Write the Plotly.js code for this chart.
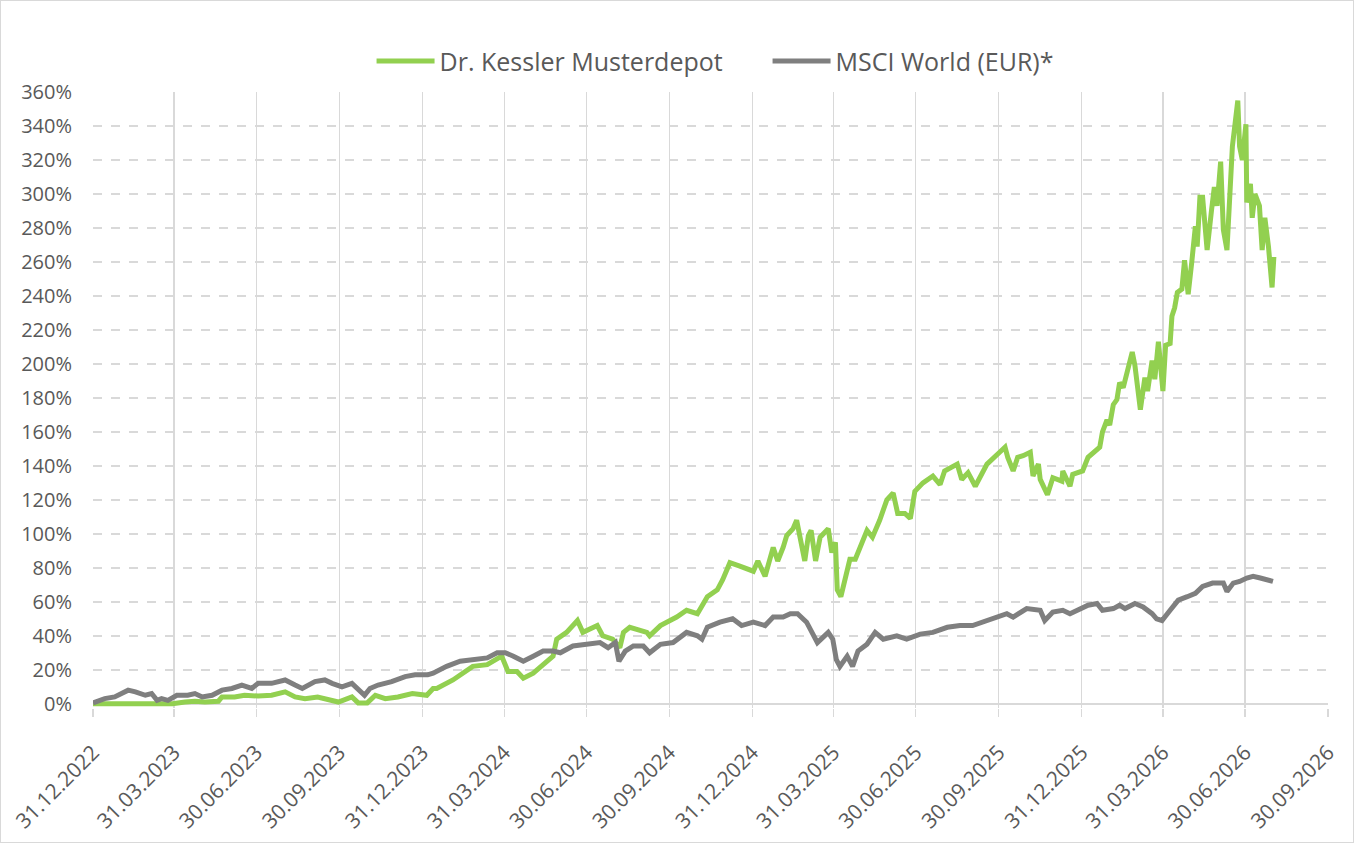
<!DOCTYPE html>
<html>
<head>
<meta charset="utf-8">
<script src="https://cdn.plot.ly/plotly-3.0.1.min.js"></script>
<style>
  html, body { margin: 0; padding: 0; background: #ffffff; }
  #chart { position: absolute; left: 0; top: 0; width: 1366px; height: 844px; }
  #frame { position: absolute; left: 0; top: 0; width: 1352px; height: 841px;
           border: 1.5px solid #D9D9D9; pointer-events: none; }
</style>
</head>
<body>
<div id="chart"></div>
<div id="frame"></div>
<script>
// ---- Data (percent performance since 31.12.2022) ----
const seriesNames = ["Dr. Kessler Musterdepot", "MSCI World (EUR)*"];

const depotDates = [
"2022-12-31","2023-01-28","2023-02-16","2023-03-06","2023-03-29","2023-04-12","2023-04-23","2023-05-04","2023-05-19","2023-05-23",
"2023-06-06","2023-06-17","2023-07-02","2023-07-17","2023-08-01","2023-08-12","2023-08-23","2023-09-06","2023-09-22","2023-09-29",
"2023-10-14","2023-10-21","2023-10-31","2023-11-09","2023-11-20","2023-12-04","2023-12-20","2023-12-31","2024-01-05","2024-01-12",
"2024-01-16","2024-02-03","2024-02-14","2024-02-25","2024-03-12","2024-03-23","2024-03-28","2024-04-04","2024-04-14","2024-04-21",
"2024-05-02","2024-05-13","2024-05-24","2024-05-28","2024-06-08","2024-06-20","2024-06-26","2024-07-12","2024-07-18","2024-07-29",
"2024-08-06","2024-08-10","2024-08-17","2024-09-05","2024-09-08","2024-09-20","2024-10-08","2024-10-19","2024-10-31","2024-11-11",
"2024-11-22","2024-11-28","2024-12-06","2024-12-17","2024-12-28","2025-01-01","2025-01-06","2025-01-14","2025-01-23","2025-01-28",
"2025-02-03","2025-02-07","2025-02-14","2025-02-18","2025-02-24","2025-02-27","2025-03-03","2025-03-06","2025-03-11","2025-03-16",
"2025-03-25","2025-03-29","2025-04-02","2025-04-04","2025-04-08","2025-04-13","2025-04-18","2025-04-24","2025-04-29","2025-05-07",
"2025-05-13","2025-05-21","2025-05-29","2025-06-05","2025-06-10","2025-06-18","2025-06-24","2025-06-29","2025-07-08","2025-07-19",
"2025-07-27","2025-08-01","2025-08-15","2025-08-20","2025-08-27","2025-09-04","2025-09-17","2025-09-26","2025-10-01","2025-10-07",
"2025-10-10","2025-10-16","2025-10-21","2025-10-27","2025-11-04","2025-11-07","2025-11-13","2025-11-15","2025-11-23","2025-11-29",
"2025-12-09","2025-12-10","2025-12-18","2025-12-21","2026-01-01","2026-01-07","2026-01-13","2026-01-20","2026-01-23","2026-01-28",
"2026-01-31","2026-02-04","2026-02-08","2026-02-11","2026-02-15","2026-02-19","2026-02-25","2026-02-28","2026-03-06","2026-03-11",
"2026-03-14","2026-03-19","2026-03-22","2026-03-26","2026-03-31","2026-04-03","2026-04-08","2026-04-10","2026-04-13","2026-04-16",
"2026-04-21","2026-04-24","2026-04-28","2026-05-02","2026-05-06","2026-05-08","2026-05-11","2026-05-14","2026-05-19","2026-05-24",
"2026-05-27","2026-05-30","2026-06-03","2026-06-06","2026-06-10","2026-06-16","2026-06-19","2026-06-22","2026-06-24","2026-06-27",
"2026-07-01","2026-07-02","2026-07-06","2026-07-08","2026-07-11","2026-07-16","2026-07-19","2026-07-22","2026-07-26","2026-07-30",
"2026-08-01"
];
const depotValues = [
0,0,0.5,0,0,1,1.5,1,1.5,4,
4,5,4.5,5,7,4,3,4,2,1,
4,0.5,0.5,5,3,4,6,5,5,9,
9,14,18,22,23,27,28,19,19,15,
18,23,28,38,42,49,42,46,40,38,
33,42,45,42,40,46,51,55,53,63,
67,73,83,81,79,78,84,75,92,84,
92,99,103,108,92,84,99,102,84,98,
103,89,95,67,63,75,85,85,92,102,
98,108,120,124,112,112,109,125,130,134,
129,137,141,132,136,128,141,146,148,151,
145,137,145,146,148,134,141,132,123,133,
131,137,128,135,137,145,148,151,160,167,
164,176,179,189,186,195,207,199,173,192,
184,202,191,213,184,211,212,228,233,242,
244,261,241,260,281,269,298,298,267,291,
304,293,319,279,267,328,340,355,328,320,
341,295,306,286,300,293,267,286,269,245,
263
];

const msciDates = [
"2022-12-31","2023-01-13","2023-01-24","2023-02-08","2023-02-16","2023-02-27","2023-03-06","2023-03-12","2023-03-17","2023-03-24",
"2023-04-03","2023-04-15","2023-04-23","2023-05-01","2023-05-12","2023-05-23","2023-06-03","2023-06-14","2023-06-25","2023-07-02",
"2023-07-17","2023-08-01","2023-08-12","2023-08-20","2023-09-03","2023-09-14","2023-09-22","2023-10-03","2023-10-14","2023-10-21",
"2023-10-28","2023-11-03","2023-11-12","2023-11-27","2023-12-12","2023-12-23","2024-01-06","2024-01-12","2024-01-27","2024-02-11",
"2024-02-25","2024-03-12","2024-03-23","2024-04-01","2024-04-10","2024-04-21","2024-05-02","2024-05-13","2024-05-24","2024-06-01",
"2024-06-15","2024-07-01","2024-07-15","2024-07-24","2024-08-01","2024-08-05","2024-08-12","2024-08-21","2024-09-01","2024-09-08",
"2024-09-20","2024-10-04","2024-10-19","2024-10-31","2024-11-05","2024-11-11","2024-11-25","2024-12-09","2024-12-19","2025-01-01",
"2025-01-14","2025-01-23","2025-02-03","2025-02-11","2025-02-19","2025-03-01","2025-03-07","2025-03-13","2025-03-25","2025-03-30",
"2025-04-03","2025-04-07","2025-04-15","2025-04-21","2025-04-27","2025-05-07","2025-05-16","2025-05-25","2025-06-09","2025-06-20",
"2025-07-05","2025-07-19","2025-08-04","2025-08-18","2025-09-01","2025-09-17","2025-10-01","2025-10-09","2025-10-16","2025-10-31",
"2025-11-15","2025-11-20","2025-11-29","2025-12-10","2025-12-18","2025-12-26","2026-01-07","2026-01-17","2026-01-23","2026-02-04",
"2026-02-11","2026-02-17","2026-02-28","2026-03-09","2026-03-19","2026-03-24","2026-03-30","2026-04-08","2026-04-17","2026-04-27",
"2026-05-06","2026-05-14","2026-05-25","2026-06-06","2026-06-10","2026-06-17","2026-06-24","2026-07-02","2026-07-09","2026-07-17",
"2026-07-24","2026-07-31"
];
const msciValues = [
0.5,3,4,8,7,5,6,2,3,2,
5,5,6,4,5,8,9,11,9,12,
12,14,11,9,13,14,12,10,12,8,
5,9,11,13,16,17,17,18,22,25,
26,27,30,30,28,25,28,31,31,30,
34,35,36,33,36,25,31,34,34,30,
35,36,42,40,38,45,48,50,46,48,
46,51,51,53,53,48,42,36,42,38,
26,22,28,22,31,35,42,38,40,38,
41,42,45,46,46,49,51,53,51,56,
55,49,54,55,53,55,58,59,55,56,
58,56,59,57,53,50,49,55,61,63,
65,69,71,71,66,71,72,74,75,74,
73,72
];

const tickDates = ["2022-12-31","2023-03-31","2023-06-30","2023-09-30","2023-12-31","2024-03-31","2024-06-30","2024-09-30",
                   "2024-12-31","2025-03-31","2025-06-30","2025-09-30","2025-12-31","2026-03-31","2026-06-30","2026-09-30"];
const tickLabels = tickDates.map(d => { const p = d.split("-"); return p[2] + "." + p[1] + "." + p[0]; });
const yTicks = [0,20,40,60,80,100,120,140,160,180,200,220,240,260,280,300,320,340,360];
const yTickLabels = yTicks.map(v => v + "%");

// ---- Styling ----
const textColor = "#595959";
const gridColor = "#D9D9D9";
const fontFamily = "'Open Sans', 'Noto Sans', sans-serif";

const traces = [
  { x: depotDates, y: depotValues, name: seriesNames[0], type: "scatter", mode: "lines",
    line: { color: "#92D050", width: 5 }, hoverinfo: "x+y" },
  { x: msciDates, y: msciValues, name: seriesNames[1], type: "scatter", mode: "lines",
    line: { color: "#7F7F7F", width: 5 }, hoverinfo: "x+y" }
];

const layout = {
  width: 1366, height: 844,
  paper_bgcolor: "#ffffff", plot_bgcolor: "#ffffff",
  margin: { l: 93, r: 38, t: 92, b: 136, pad: 0 },
  font: { family: fontFamily, color: textColor, size: 20 },
  showlegend: true,
  legend: { orientation: "h", x: 0.5462, xanchor: "center", y: 1.05, yanchor: "middle",
            font: { size: 25, color: textColor, family: fontFamily }, itemwidth: 58,
            entrywidth: 323, entrywidthmode: "pixels",
            traceorder: "normal", bgcolor: "rgba(0,0,0,0)" },
  xaxis: {
    type: "date", range: ["2022-12-31", "2026-09-30"],
    tickmode: "array", tickvals: tickDates, ticktext: tickLabels, tickangle: -45,
    showgrid: true, gridcolor: gridColor, gridwidth: 1.5,
    ticks: "outside", ticklen: 8, tickcolor: gridColor, tickwidth: 1.5,
    ticklabelstandoff: 15,
    showline: false, zeroline: false,
    tickfont: { size: 21, color: textColor, family: fontFamily }
  },
  yaxis: {
    range: [-2.5, 360], tickmode: "array", tickvals: yTicks, ticktext: yTickLabels,
    showgrid: true, gridcolor: gridColor, gridwidth: 1.5, griddash: "dash",
    zeroline: true, zerolinecolor: gridColor, zerolinewidth: 1.5,
    showline: false, ticks: "", ticklabelstandoff: 20,
    tickfont: { size: 20, color: textColor, family: fontFamily }
  }
};

Plotly.newPlot("chart", traces, layout, { displayModeBar: false, staticPlot: true });
</script>
</body>
</html>
